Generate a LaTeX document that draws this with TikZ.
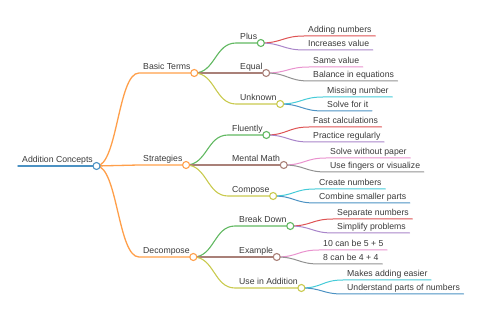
\documentclass[tikz,border=0pt]{standalone}
\usepackage{fontspec}
\setmainfont{Liberation Sans}
\definecolor{txtc}{HTML}{3A3A3A}
\definecolor{kBlue}{HTML}{1F77B4}
\definecolor{kOrange}{HTML}{FF7F0E}
\definecolor{kGreen}{HTML}{2CA02C}
\definecolor{kRed}{HTML}{D62728}
\definecolor{kPurple}{HTML}{9467BD}
\definecolor{kBrown}{HTML}{8C564B}
\definecolor{kPink}{HTML}{E377C2}
\definecolor{kGray}{HTML}{7F7F7F}
\definecolor{kOlive}{HTML}{BCBD22}
\definecolor{kCyan}{HTML}{17BECF}
\colorlet{cBlue}{kBlue!80!white}
\colorlet{cOrange}{kOrange!75!white}
\colorlet{cGreen}{kGreen!75!white}
\colorlet{cRed}{kRed!80!white}
\colorlet{cPurple}{kPurple!80!white}
\colorlet{cBrown}{kBrown!75!white}
\colorlet{cPink}{kPink!80!white}
\colorlet{cGray}{kGray!85!white}
\colorlet{cOlive}{kOlive!80!white}
\colorlet{cCyan}{kCyan!80!white}
\tikzset{
  lbl/.style={font=\fontsize{8.7}{10}\selectfont, text=txtc, inner sep=0pt, anchor=base west},
  dot/.style={circle, minimum size=7pt, inner sep=0pt, fill=white, line width=1.1pt},
  wroot/.style={line width=1.5pt},
  wone/.style={line width=1.3pt},
  wtwo/.style={line width=1.1pt},
  wthree/.style={line width=1.0pt},
  lnk/.style={line cap=round}
}
% name, x of line start, y of line, text
\newcommand\mmtext[4]{%
  \coordinate (#1s) at (#2,#3);
  \node[lbl] (#1) at (#2+4,#3-3.5) {#4};
  \coordinate (#1e) at ([xshift=3.5pt]#1.base east |- #1s);
}
\newcommand\mmlink[3]{% parent, child, style
  \draw[#3, lnk] (#1e) .. controls +(21,0) and +(-21,0) .. (#2s) -- (#2e);
}
\begin{document}
\begin{tikzpicture}[x=1pt, y=-1pt]
\useasboundingbox (0,0) rectangle (480,320);
% texts
\mmtext{root}{18}{166}{Addition Concepts}
\mmtext{bt}{139}{73}{Basic Terms}
\mmtext{st}{139}{165}{Strategies}
\mmtext{de}{139}{257}{Decompose}
\mmtext{plus}{236}{43}{Plus}
\mmtext{equal}{236}{73}{Equal}
\mmtext{unk}{236}{104}{Unknown}
\mmtext{flu}{228}{135}{Fluently}
\mmtext{mm}{228}{165}{Mental Math}
\mmtext{comp}{228}{196}{Compose}
\mmtext{bd}{235}{226}{Break Down}
\mmtext{ex}{235}{257}{Example}
\mmtext{use}{235}{288}{Use in Addition}
\mmtext{a1}{304}{36}{Adding numbers}
\mmtext{a2}{304}{50}{Increases value}
\mmtext{b1}{309}{67}{Same value}
\mmtext{b2}{309}{81}{Balance in equations}
\mmtext{c1}{323}{97}{Missing number}
\mmtext{c2}{323}{111}{Solve for it}
\mmtext{d1}{309}{127}{Fast calculations}
\mmtext{d2}{309}{142}{Practice regularly}
\mmtext{e1}{326}{158}{Solve without paper}
\mmtext{e2}{326}{172}{Use fingers or visualize}
\mmtext{f1}{315}{189}{Create numbers}
\mmtext{f2}{315}{203}{Combine smaller parts}
\mmtext{g1}{333}{219}{Separate numbers}
\mmtext{g2}{333}{233}{Simplify problems}
\mmtext{h1}{319}{250}{10 can be 5 + 5}
\mmtext{h2}{319}{264}{8 can be 4 + 4}
\mmtext{i1}{343}{280}{Makes adding easier}
\mmtext{i2}{343}{294}{Understand parts of numbers}
% root line
\draw[wroot, cBlue, lnk] (roots) -- (roote);
% links
\mmlink{root}{bt}{wone, cOrange}
\mmlink{root}{st}{wone, cOrange}
\mmlink{root}{de}{wone, cOrange}
\mmlink{bt}{plus}{wtwo, cGreen}
\mmlink{bt}{equal}{wtwo, cBrown}
\mmlink{bt}{unk}{wtwo, cOlive}
\mmlink{st}{flu}{wtwo, cGreen}
\mmlink{st}{mm}{wtwo, cBrown}
\mmlink{st}{comp}{wtwo, cOlive}
\mmlink{de}{bd}{wtwo, cGreen}
\mmlink{de}{ex}{wtwo, cBrown}
\mmlink{de}{use}{wtwo, cOlive}
\mmlink{plus}{a1}{wthree, cRed}
\mmlink{plus}{a2}{wthree, cPurple}
\mmlink{equal}{b1}{wthree, cPink}
\mmlink{equal}{b2}{wthree, cGray}
\mmlink{unk}{c1}{wthree, cCyan}
\mmlink{unk}{c2}{wthree, cBlue}
\mmlink{flu}{d1}{wthree, cRed}
\mmlink{flu}{d2}{wthree, cPurple}
\mmlink{mm}{e1}{wthree, cPink}
\mmlink{mm}{e2}{wthree, cGray}
\mmlink{comp}{f1}{wthree, cCyan}
\mmlink{comp}{f2}{wthree, cBlue}
\mmlink{bd}{g1}{wthree, cRed}
\mmlink{bd}{g2}{wthree, cPurple}
\mmlink{ex}{h1}{wthree, cPink}
\mmlink{ex}{h2}{wthree, cGray}
\mmlink{use}{i1}{wthree, cCyan}
\mmlink{use}{i2}{wthree, cBlue}
% circles
\node[dot, draw=cBlue] (rootc) at (roote) {};
\node[dot, draw=cOrange] (btc) at (bte) {};
\node[dot, draw=cOrange] (stc) at (ste) {};
\node[dot, draw=cOrange] (dec) at (dee) {};
\node[dot, draw=cGreen] (plusc) at (pluse) {};
\node[dot, draw=cBrown] (equalc) at (equale) {};
\node[dot, draw=cOlive] (unkc) at (unke) {};
\node[dot, draw=cGreen] (fluc) at (flue) {};
\node[dot, draw=cBrown] (mmc) at (mme) {};
\node[dot, draw=cOlive] (compc) at (compe) {};
\node[dot, draw=cGreen] (bdc) at (bde) {};
\node[dot, draw=cBrown] (exc) at (exe) {};
\node[dot, draw=cOlive] (usec) at (usee) {};
\end{tikzpicture}
\end{document}
